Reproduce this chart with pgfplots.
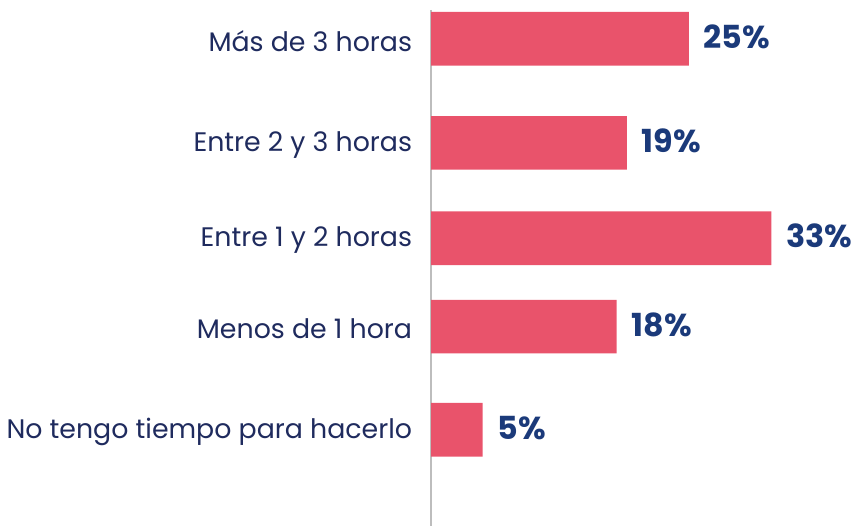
\documentclass[border=0pt]{standalone}
\usepackage{pgfplots}
\pgfplotsset{compat=1.18}
\usepackage{fontspec}
\setmainfont{Poppins}
\definecolor{barcol}{HTML}{E9536B}
\definecolor{catcol}{HTML}{1F2B5E}
\definecolor{valcol}{HTML}{1B3A7A}
\definecolor{axcol}{HTML}{BDBDBD}
\begin{document}
\begin{tikzpicture}
% 1 px of the reference = 0.5pt
\begin{axis}[
    name=ax,
    scale only axis,
    width=213pt, height=260pt,
    xbar, bar width=27pt,
    xmin=0, xmax=41,
    ymin=10, ymax=530, y dir=reverse,
    axis y line*=left,
    axis x line=none,
    y axis line style={axcol, line width=1pt, -},
    ytick={39,144,240,329,433},
    yticklabels={M\'as de 3 horas, Entre 2 y 3 horas, Entre 1 y 2 horas, Menos de 1 hora, No tengo tiempo para hacerlo},
    major tick length=0pt,
    yticklabel style={font=\fontsize{13.5}{15}\selectfont, text=catcol, xshift=-6pt, yshift=-1pt},
    point meta=x,
    /pgf/number format/assume math mode=true,
    nodes near coords={\pgfmathprintnumber{\pgfplotspointmeta}\%},
    nodes near coords style={font=\fontsize{16}{18}\selectfont\bfseries, text=valcol, anchor=west, xshift=4pt, yshift=1pt},
    clip=false,
]
\addplot[fill=barcol, draw=none] coordinates {
    (25,39) (19,144) (33,240) (18,329) (5,433)
};
\end{axis}
\useasboundingbox ([xshift=-216.5pt]ax.south west) rectangle ([yshift=5pt]ax.north east);
\end{tikzpicture}
\end{document}
